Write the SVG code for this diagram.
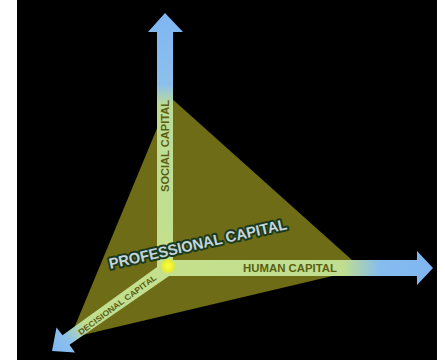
<svg xmlns="http://www.w3.org/2000/svg" width="445" height="360" viewBox="0 0 445 360">
  <defs>
    <linearGradient id="gV" gradientUnits="userSpaceOnUse" x1="0" y1="13" x2="0" y2="268">
      <stop offset="0" stop-color="#7fb6f2"/>
      <stop offset="0.28" stop-color="#8cc0ec"/>
      <stop offset="0.36" stop-color="#bcdc98"/>
      <stop offset="1" stop-color="#c4e08c"/>
    </linearGradient>
    <linearGradient id="gH" gradientUnits="userSpaceOnUse" x1="168" y1="0" x2="433" y2="0">
      <stop offset="0" stop-color="#c4e08c"/>
      <stop offset="0.66" stop-color="#c0de90"/>
      <stop offset="0.8" stop-color="#86bcee"/>
      <stop offset="1" stop-color="#7fb6f2"/>
    </linearGradient>
    <linearGradient id="gD" gradientUnits="userSpaceOnUse" x1="168" y1="268" x2="52" y2="352">
      <stop offset="0" stop-color="#c4e08c"/>
      <stop offset="0.7" stop-color="#c0de90"/>
      <stop offset="0.86" stop-color="#8cc0ec"/>
      <stop offset="1" stop-color="#7fb6f2"/>
    </linearGradient>
    <radialGradient id="gDot">
      <stop offset="0" stop-color="#ffff40"/>
      <stop offset="0.7" stop-color="#e8ec30"/>
      <stop offset="1" stop-color="#e8ec30" stop-opacity="0"/>
    </radialGradient>
    <filter id="soft" x="-10%" y="-10%" width="120%" height="120%">
      <feGaussianBlur stdDeviation="0.7"/>
    </filter>
  </defs>
  <style>
    .axlbl { font-family: "Liberation Sans", Arial, sans-serif; font-weight: bold; font-size: 10px; fill: #5c5e14; }
    .main { font-family: "Liberation Sans", Arial, sans-serif; font-weight: bold; font-size: 15px; fill: #c4d6dc; stroke: #1c3a1e; stroke-width: 4px; stroke-linejoin: round; paint-order: stroke; }
  </style>
  <rect x="0" y="0" width="445" height="360" fill="#ffffff"/>
  <rect x="17" y="0" width="420" height="360" fill="#000000"/>

  <g id="triangle" filter="url(#soft)">
    <polygon points="170,97 362,269 70,338" fill="#6e6c12"/>
  </g>

  <g id="connectors" filter="url(#soft)">
    <polygon id="axis-social" points="157,268 157,32 148,32 165,13 183,32 173,32 173,268" fill="url(#gV)"/>
    <polygon id="axis-human" points="168,260 417,260 417,251 433,268 417,285 417,276 168,276" fill="url(#gH)"/>
    <polygon id="axis-decisional" points="172,274 69.5,344.8 75,352.5 52,351 56.5,327.5 62.5,335.2 164,262" fill="url(#gD)"/>
  </g>

  <g id="origin">
    <circle cx="168" cy="266" r="8" fill="url(#gDot)"/>
  </g>

  <g id="social-label">
    <text class="axlbl" transform="translate(168.5,146) rotate(-90)" text-anchor="middle" textLength="92" lengthAdjust="spacingAndGlyphs">SOCIAL CAPITAL</text>
  </g>
  <g id="human-label">
    <text class="axlbl" x="290" y="272" text-anchor="middle" textLength="94" lengthAdjust="spacingAndGlyphs">HUMAN CAPITAL</text>
  </g>
  <g id="decisional-label">
    <text class="axlbl" transform="translate(119,307) rotate(-36.5)" text-anchor="middle" style="font-size:8px" textLength="95" lengthAdjust="spacingAndGlyphs">DECISIONAL CAPITAL</text>
  </g>
  <g id="professional-label">
    <text class="main" transform="translate(199,249) rotate(-12.7)" text-anchor="middle" textLength="182" lengthAdjust="spacingAndGlyphs">PROFESSIONAL CAPITAL</text>
  </g>
</svg>
